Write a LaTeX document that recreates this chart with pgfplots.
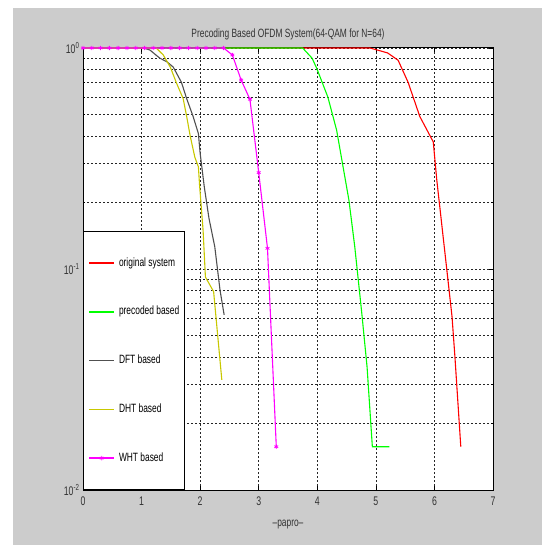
\documentclass[border=0pt]{standalone}
\usepackage{fontspec}
\setmainfont{Liberation Sans}[FakeStretch=0.7]
\usepackage{pgfplots}
\pgfplotsset{compat=1.18}
\definecolor{figgray}{RGB}{204,204,204}
\definecolor{origred}{RGB}{255,0,0}
\definecolor{precgreen}{RGB}{0,255,0}
\definecolor{dftgray}{RGB}{80,80,80}
\definecolor{dhtyel}{RGB}{200,200,0}
\definecolor{whtmag}{RGB}{255,0,255}
\begin{document}
\begin{tikzpicture}[x=1bp,y=1bp]
\useasboundingbox (-83,-55) rectangle (459,490);
\fill[figgray] (-70,-55) rectangle (459,482);
\begin{axis}[
    scale only axis,
    width=410bp, height=442bp,
    xmin=0, xmax=7, ymin=0.01, ymax=1,
    ymode=log,
    clip=false,
    axis background/.style={fill=white},
    axis line style={black, line width=1bp},
    xtick={0,1,...,7},
    ytick={0.01,0.1,1},
    yticklabels={10\textsuperscript{-2},10\textsuperscript{-1},10\textsuperscript{0}},
    /pgf/number format/assume math mode=true,
    tick align=inside,
    tick style={black, line width=0.6bp},
    major tick length=4bp, minor tick length=2bp,
    xmajorgrids, ymajorgrids, yminorgrids,
    major grid style={black!85, dash pattern=on 2bp off 2bp, line width=0.6bp},
    minor grid style={black!85, dash pattern=on 2bp off 2bp, line width=0.6bp},
    ticklabel style={font=\fontsize{12.5bp}{13bp}\selectfont, text=black!80},
    xticklabel style={yshift=-3bp},
    title={Precoding Based OFDM System(64-QAM for N=64)},
    title style={font=\fontsize{12bp}{13bp}\selectfont, text=black!80, yshift=-2bp},
    xlabel={--papro--},
    xlabel style={font=\fontsize{12bp}{13bp}\selectfont, text=black!80, yshift=-8bp},
    legend style={at={(0,0)}, anchor=south west, draw=black, line width=0.8bp,
        fill=white, inner xsep=5bp, inner ysep=26.5bp, row sep=38.75bp, column sep=4bp,
        font=\fontsize{12bp}{13bp}\selectfont,
        nodes={inner sep=0pt, text height=8bp, text depth=2bp}},
    legend cell align=left,
    legend image code/.code={
        \draw[#1, mark=none, line width=1.6bp] (0bp,0bp) -- (25bp,0bp);
        \path[#1, draw=none] plot coordinates {(12.5bp,0bp)};
    },
    every axis plot/.append style={line width=1.1bp},
]
\addplot[color=origred] coordinates {
    (0,1) (4.9,1) (5.2,0.95) (5.38,0.88) (5.55,0.70) (5.75,0.49) (5.98,0.376)
    (6.04,0.253) (6.21,0.1) (6.30,0.061) (6.35,0.04) (6.45,0.0157)
};
\addlegendentry{original system}
\addplot[color=precgreen] coordinates {
    (0,1) (3.75,1) (3.91,0.9) (3.99,0.81) (4.18,0.6) (4.33,0.425) (4.44,0.29)
    (4.54,0.205) (4.64,0.126) (4.68,0.1) (4.76,0.063) (4.85,0.036) (4.94,0.0157) (5.23,0.0157)
};
\addlegendentry{precoded based}
\addplot[color=dftgray] coordinates {
    (0,1) (1.03,1) (1.14,0.98) (1.31,0.90) (1.43,0.867) (1.54,0.82) (1.68,0.70)
    (1.77,0.59) (1.88,0.49) (1.97,0.41) (2.0,0.334) (2.07,0.236) (2.15,0.17)
    (2.25,0.126) (2.34,0.08) (2.41,0.062)
};
\addlegendentry{DFT based}
\addplot[color=dhtyel] coordinates {
    (0,1) (1.25,1) (1.37,0.93) (1.49,0.82) (1.60,0.69) (1.71,0.59) (1.77,0.49)
    (1.83,0.40) (1.91,0.32) (1.97,0.29) (1.99,0.24) (2.05,0.15) (2.09,0.092)
    (2.23,0.079) (2.37,0.0315)
};
\addlegendentry{DHT based}
\addplot[color=whtmag, mark=asterisk, mark size=2.2bp, mark options={line width=0.8bp}] coordinates {
    (0,1) (0.15,1) (0.3,1) (0.45,1) (0.6,1) (0.75,1) (0.9,1) (1.05,1) (1.2,1)
    (1.35,1) (1.5,1) (1.65,1) (1.8,1) (1.95,1) (2.1,1) (2.25,1) (2.4,1)
    (2.55,0.93) (2.7,0.716) (2.85,0.586) (3.0,0.273) (3.15,0.124) (3.3,0.0157)
};
\addlegendentry{WHT based}
\end{axis}
\end{tikzpicture}
\end{document}
